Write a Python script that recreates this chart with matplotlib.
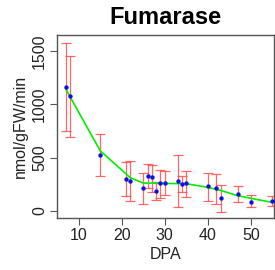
import matplotlib
matplotlib.use("Agg")
import matplotlib.pyplot as plt

plt.rcParams['font.family'] = ['Liberation Sans', 'DejaVu Sans']

dpa = [7, 8, 15, 21, 22, 25, 26, 27, 28, 29, 30, 33, 34, 35, 40, 42, 43, 47, 50, 55]
activity = [1164, 1080, 521, 303, 284, 212, 328, 315, 190, 259, 259, 284, 253, 259, 231, 212, 125, 162, 87, 94]
err_hi = [1579, 1451, 718, 456, 465, 353, 440, 434, 268, 384, 371, 527, 328, 378, 359, 349, 247, 231, 147, 137]
err_lo = [749, 696, 328, 140, 91, 69, 215, 178, 100, 119, 147, 34, 175, 131, 97, 69, -9, 81, 34, 50]

fit_x = [7, 8, 15, 22, 25, 30, 35, 40, 43, 47, 50, 55]
fit_y = [1145, 1071, 565, 312, 262, 259, 256, 222, 193, 143, 119, 81]

yticks = [0, 500, 1000, 1500]
xticks = [10, 20, 30, 40, 50]

fig = plt.figure(figsize=(2.75, 2.7), dpi=100)
ax = fig.add_axes([0.207, 0.1915, 0.79, 0.679])

lower = [a - l for a, l in zip(activity, err_lo)]
upper = [h - a for a, h in zip(activity, err_hi)]
ax.errorbar(dpa, activity, yerr=[lower, upper], fmt='none', ecolor='#ff4d4d',
            elinewidth=0.9, capsize=3.5, capthick=0.9, alpha=0.85, zorder=2)
ax.plot(fit_x, fit_y, color='#00ee00', lw=1.2, zorder=3)
ax.scatter(dpa, activity, s=10, color='#1010dd', marker='o', zorder=4, linewidths=0)

ax.set_xlim(4.95, 55.4)
ax.set_ylim(-68, 1650)
ax.set_xticks(xticks)
ax.set_yticks(yticks)
ax.set_yticklabels([str(v) for v in yticks], rotation=90, va='center')
for s in ax.spines.values():
    s.set_color('#555555')
    s.set_linewidth(1.0)
ax.tick_params(axis='both', direction='out', length=5, width=0.8, color='#555555',
               labelsize=11.5, labelcolor='#222222', pad=2)
ax.set_xlabel('DPA', fontsize=11.5, color='#222222', labelpad=3)
ax.set_ylabel('nmol/gFW/min', fontsize=11.5, color='#222222', labelpad=3)
ax.set_title('Fumarase', fontsize=17, fontweight='bold', pad=8)

fig.savefig('out.png', dpi=100)
